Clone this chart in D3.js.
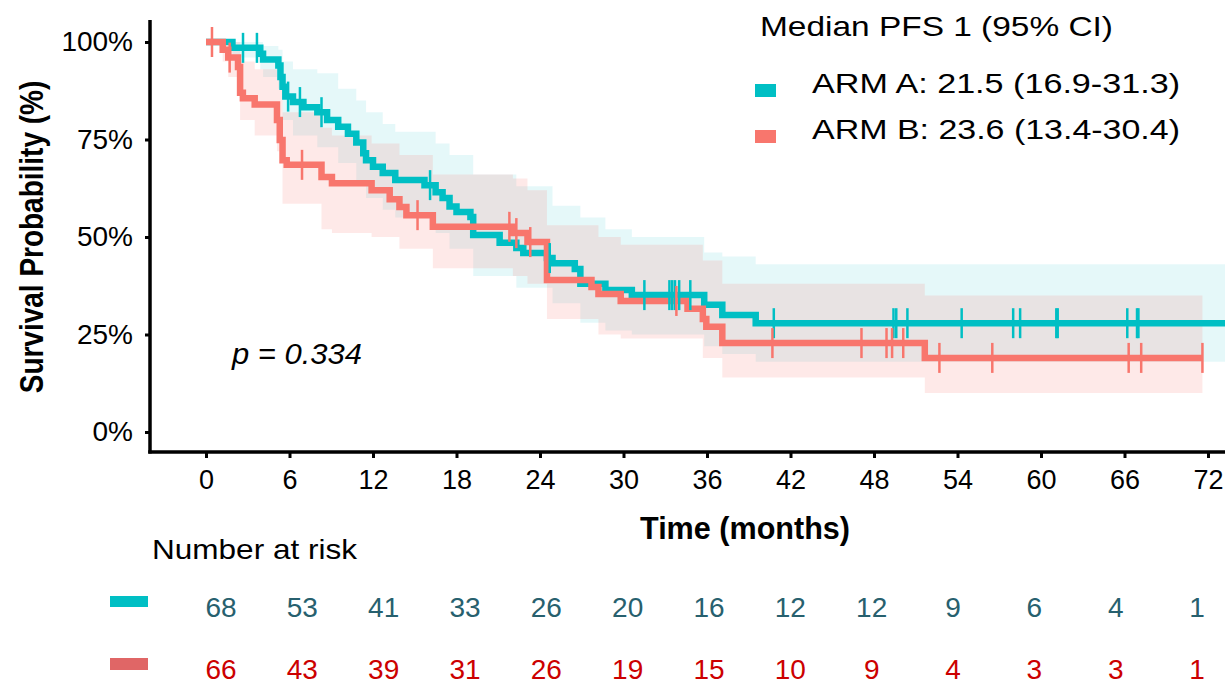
<!DOCTYPE html>
<html>
<head>
<meta charset="utf-8">
<script src="https://cdn.jsdelivr.net/npm/d3@7"></script>
<style>
  body { margin: 0; background: #fff; }
  svg { display: block; font-family: "Liberation Sans", Arial, sans-serif; }
</style>
</head>
<body>
<svg id="km"></svg>
<script>
/* Kaplan-Meier steps (months, survival) */
const armATimes = [0, 1.9, 3.9, 4.1, 5.2, 5.35, 5.5, 5.7, 6.25, 7.0, 8.0, 8.7, 9.5, 10.2, 10.8, 11.3, 11.5, 12.0, 12.7, 13.6, 15.7, 16.5, 17.0, 17.5, 18.0, 19.0, 19.2, 21.1, 22.3, 22.8, 24.5, 24.9, 26.5, 26.9, 28.7, 30.6, 35.8, 37.1, 39.5, 74];
const armASurv  = [1.0, 0.985, 0.97, 0.955, 0.94, 0.91, 0.885, 0.86, 0.846, 0.833, 0.82, 0.80, 0.783, 0.765, 0.742, 0.715, 0.697, 0.68, 0.664, 0.646, 0.633, 0.615, 0.60, 0.578, 0.564, 0.551, 0.505, 0.485, 0.472, 0.459, 0.446, 0.433, 0.418, 0.38, 0.364, 0.351, 0.326, 0.30, 0.279, 0.279];

const armBTimes = [0, 1.2, 1.6, 2.3, 2.45, 2.65, 3.5, 5.1, 5.3, 5.5, 5.8, 8.3, 9.05, 11.9, 13.2, 13.9, 14.4, 16.3, 22.05, 23.1, 24.5, 27.7, 28.2, 29.8, 34.6, 35.7, 35.95, 37.1, 51.65, 71.6];
const armBSurv  = [1.0, 0.98, 0.96, 0.936, 0.87, 0.856, 0.84, 0.80, 0.749, 0.697, 0.685, 0.654, 0.638, 0.62, 0.597, 0.577, 0.556, 0.526, 0.51, 0.487, 0.39, 0.372, 0.354, 0.336, 0.316, 0.29, 0.27, 0.228, 0.19, 0.19];

/* censoring marks (months) */
const armACensor = [2.66, 3.66, 5.9, 6.75, 8.3, 16.1, 24.7, 31.5, 33.3, 33.5, 33.7, 34.0, 34.8, 40.8, 49.4, 49.6, 50.4, 54.3, 58.0, 58.5, 61.1, 61.2, 66.2, 66.9, 67.0];
const armBCensor = [0.43, 1.7, 6.9, 15.2, 21.8, 22.3, 23.3, 33.8, 40.7, 47.1, 48.9, 49.3, 50.1, 52.7, 56.5, 66.3, 67.2, 71.6];

/* 95% confidence bands (months, lower, upper) */
const armACiTimes = [0, 1.9, 3.9, 4.1, 5.2, 5.5, 6.25, 8.0, 9.5, 10.8, 11.5, 12.7, 13.6, 16.5, 17.5, 19.2, 22.3, 24.9, 26.9, 28.7, 30.6, 35.8, 37.1, 39.5, 74];
const armALower   = [1.0, 0.96, 0.93, 0.91, 0.88, 0.80, 0.76, 0.73, 0.69, 0.64, 0.60, 0.57, 0.55, 0.51, 0.47, 0.40, 0.37, 0.33, 0.28, 0.26, 0.25, 0.22, 0.20, 0.18, 0.18];
const armAUpper   = [1.0, 1.0, 1.0, 0.99, 0.98, 0.95, 0.93, 0.92, 0.88, 0.85, 0.82, 0.79, 0.77, 0.74, 0.71, 0.66, 0.63, 0.58, 0.55, 0.52, 0.50, 0.46, 0.45, 0.43, 0.43];

const armBCiTimes = [0, 1.2, 1.6, 2.45, 3.5, 5.1, 5.5, 8.3, 9.05, 11.9, 13.9, 16.3, 22.05, 23.1, 24.5, 28.2, 29.8, 35.7, 37.1, 51.65, 71.6];
const armBLower   = [1.0, 0.95, 0.91, 0.80, 0.76, 0.72, 0.585, 0.52, 0.51, 0.50, 0.47, 0.42, 0.40, 0.38, 0.29, 0.25, 0.24, 0.19, 0.14, 0.10, 0.10];
const armBUpper   = [1.0, 1.0, 1.0, 0.95, 0.93, 0.91, 0.82, 0.78, 0.76, 0.74, 0.71, 0.66, 0.65, 0.62, 0.53, 0.50, 0.48, 0.44, 0.38, 0.35, 0.35];

/* axis ticks and risk table */
const timeTicks = [0, 6, 12, 18, 24, 30, 36, 42, 48, 54, 60, 66, 72];
const survTicks = [0, 0.25, 0.5, 0.75, 1];
const riskA = [68, 53, 41, 33, 26, 20, 16, 12, 12, 9, 6, 4, 1];
const riskB = [66, 43, 39, 31, 26, 19, 15, 10, 9, 4, 3, 3, 1];

const legendTitle = "Median PFS 1 (95% CI)";
const armLabels = ["ARM A: 21.5 (16.9-31.3)", "ARM B: 23.6 (13.4-30.4)"];
const pLabel = "p = 0.334";

const width = 1225, height = 684;
const tealCol = "#00BFC4", redCol = "#F8766D";

const svg = d3.select("#km").attr("width", width).attr("height", height);

const x = d3.scaleLinear().domain([0, 72]).range([206, 1208]);
const y = d3.scaleLinear().domain([0, 1]).range([432, 42]);
const xRisk = d3.scaleLinear().domain([0, 72]).range([221, 1197]);

/* clip to the panel */
svg.append("clipPath").attr("id", "panel")
  .append("rect").attr("x", 150).attr("y", 0).attr("width", width - 150).attr("height", 452);

const plot = svg.append("g").attr("clip-path", "url(#panel)");

const band = d3.area().curve(d3.curveStepAfter)
  .x(d => x(d.t)).y0(d => y(d.lo)).y1(d => y(d.hi));
const step = d3.line().curve(d3.curveStepAfter)
  .x(d => x(d.t)).y(d => y(d.s));

function zipCi(ts, lo, hi) { return ts.map((t, i) => ({t: t, lo: lo[i], hi: hi[i]})); }
function zipKm(ts, s) { return ts.map((t, i) => ({t: t, s: s[i]})); }
function survAt(ts, s, t) {
  let v = s[0];
  for (let i = 0; i < ts.length; i++) { if (ts[i] <= t) v = s[i]; }
  return v;
}

/* confidence bands */
plot.append("path").attr("d", band(zipCi(armACiTimes, armALower, armAUpper)))
  .attr("fill", tealCol).attr("fill-opacity", 0.1);
plot.append("path").attr("d", band(zipCi(armBCiTimes, armBLower, armBUpper)))
  .attr("fill", redCol).attr("fill-opacity", 0.16);

/* curves */
plot.append("path").attr("d", step(zipKm(armATimes, armASurv)))
  .attr("fill", "none").attr("stroke", tealCol).attr("stroke-width", 6.5);
plot.append("path").attr("d", step(zipKm(armBTimes, armBSurv)))
  .attr("fill", "none").attr("stroke", redCol).attr("stroke-width", 6.5);

/* censor ticks */
plot.selectAll(".censA").data(armACensor).enter().append("line")
  .attr("x1", d => x(d)).attr("x2", d => x(d))
  .attr("y1", d => y(survAt(armATimes, armASurv, d)) - 15)
  .attr("y2", d => y(survAt(armATimes, armASurv, d)) + 15)
  .attr("stroke", tealCol).attr("stroke-width", 2.5);
plot.selectAll(".censB").data(armBCensor).enter().append("line")
  .attr("x1", d => x(d)).attr("x2", d => x(d))
  .attr("y1", d => y(survAt(armBTimes, armBSurv, d)) - 15)
  .attr("y2", d => y(survAt(armBTimes, armBSurv, d)) + 15)
  .attr("stroke", redCol).attr("stroke-width", 2.5);

/* axes */
const xAxis = svg.append("g").attr("transform", "translate(0,452)")
  .call(d3.axisBottom(x).tickValues(timeTicks).tickSize(6).tickPadding(12));
xAxis.select(".domain").remove();
xAxis.selectAll("line").attr("stroke", "#000").attr("stroke-width", 3);
xAxis.selectAll("text").attr("font-size", 27).attr("fill", "#000")
  .style("font-family", "'Liberation Sans', Arial, sans-serif");

const yAxis = svg.append("g").attr("transform", "translate(150,0)")
  .call(d3.axisLeft(y).tickValues(survTicks).tickFormat(d3.format(".0%")).tickSize(5).tickPadding(12));
yAxis.select(".domain").remove();
yAxis.selectAll("line").attr("stroke", "#000").attr("stroke-width", 3);
yAxis.selectAll("text").attr("font-size", 28).attr("fill", "#000")
  .style("font-family", "'Liberation Sans', Arial, sans-serif");

svg.append("line").attr("x1", 150).attr("x2", 150).attr("y1", 20).attr("y2", 453.5)
  .attr("stroke", "#000").attr("stroke-width", 3.5);
svg.append("line").attr("x1", 148.25).attr("x2", width).attr("y1", 452).attr("y2", 452)
  .attr("stroke", "#000").attr("stroke-width", 3.5);

/* axis titles */
svg.append("text").attr("transform", "translate(43,237) rotate(-90) scale(1,1.2)")
  .attr("text-anchor", "middle").attr("font-size", 28).attr("font-weight", "bold")
  .text("Survival Probability (%)");
svg.append("text").attr("transform", "translate(745,539) scale(1,1.1)")
  .attr("text-anchor", "middle").attr("font-size", 29).attr("font-weight", "bold")
  .attr("textLength", 210).attr("lengthAdjust", "spacingAndGlyphs")
  .text("Time (months)");

/* p value */
svg.append("text").attr("x", 232).attr("y", 364)
  .attr("font-size", 29).attr("font-style", "italic")
  .attr("textLength", 130).attr("lengthAdjust", "spacingAndGlyphs").text(pLabel);

/* legend */
svg.append("text").attr("x", 760).attr("y", 36).attr("font-size", 28)
  .attr("textLength", 353).attr("lengthAdjust", "spacingAndGlyphs").text(legendTitle);
[tealCol, redCol].forEach((c, i) => {
  svg.append("rect").attr("x", 755).attr("y", 84 + i * 46).attr("width", 21).attr("height", 13).attr("fill", c);
  svg.append("text").attr("x", 812).attr("y", 93 + i * 46).attr("font-size", 28)
    .attr("textLength", 368).attr("lengthAdjust", "spacingAndGlyphs").text(armLabels[i]);
});

/* risk table */
svg.append("text").attr("x", 152).attr("y", 559).attr("font-size", 28)
  .attr("textLength", 205).attr("lengthAdjust", "spacingAndGlyphs").text("Number at risk");
svg.append("rect").attr("x", 110).attr("y", 596).attr("width", 38).attr("height", 11).attr("fill", tealCol);
svg.append("rect").attr("x", 110).attr("y", 658).attr("width", 38).attr("height", 12).attr("fill", "#E06666");

svg.selectAll(".riskA").data(riskA).enter().append("text")
  .attr("x", (d, i) => xRisk(timeTicks[i])).attr("y", 617)
  .attr("text-anchor", "middle").attr("font-size", 28).attr("fill", "#27606E").text(d => d);
svg.selectAll(".riskB").data(riskB).enter().append("text")
  .attr("x", (d, i) => xRisk(timeTicks[i])).attr("y", 679)
  .attr("text-anchor", "middle").attr("font-size", 28).attr("fill", "#CC0000").text(d => d);
</script>
</body>
</html>
